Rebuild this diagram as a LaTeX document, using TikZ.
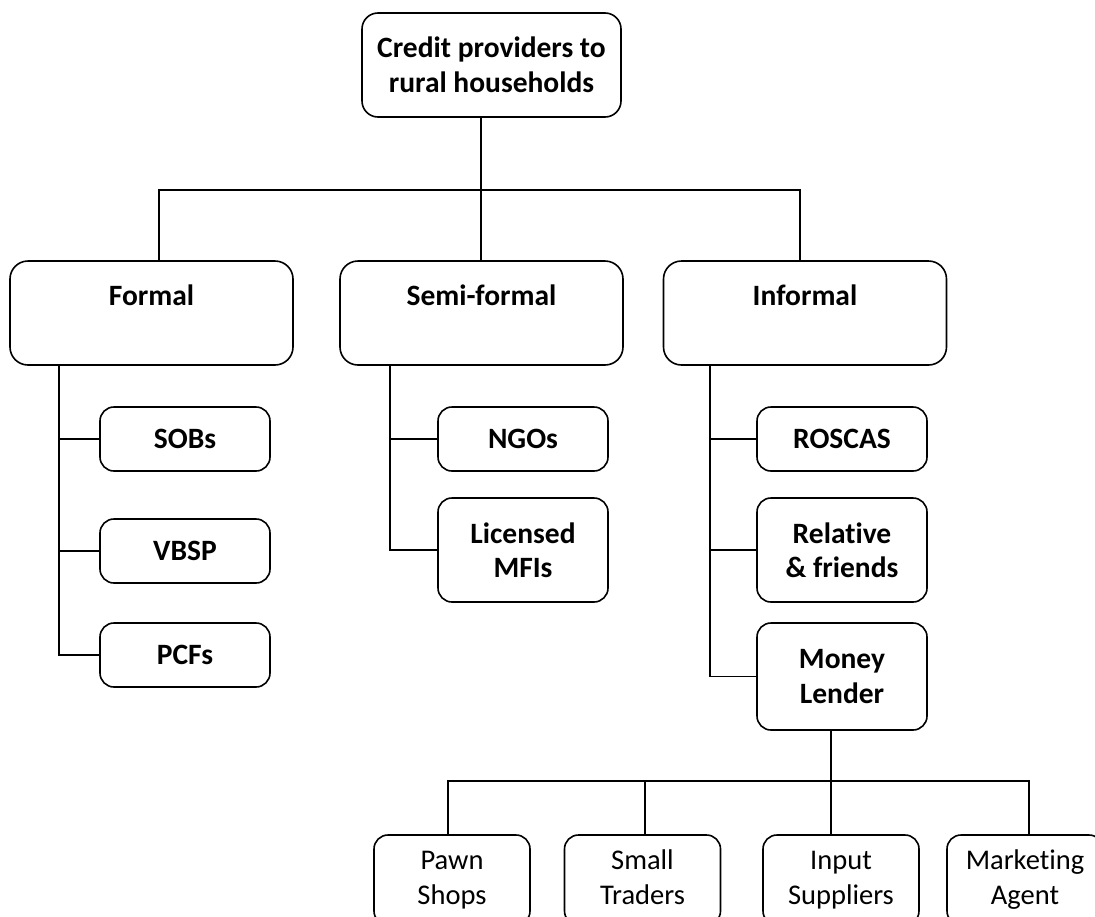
\documentclass[tikz,border=0pt]{standalone}
\usepackage{fontspec}
\setmainfont{Carlito}[Ligatures=NoCommon]
\begin{document}
\begin{tikzpicture}[x=1pt,y=-1pt,
    box/.style={draw, line width=1.6pt, rounded corners=16pt, align=center, inner sep=0pt,
      font=\fontsize{29.5}{34.5}\selectfont\bfseries},
    levelbox/.style={box, rounded corners=18pt, minimum width=283pt, text height=44pt, text depth=60pt},
    subbox/.style={box, rounded corners=14pt, minimum width=170pt, minimum height=64pt},
    agentbox/.style={box, rounded corners=14pt, minimum width=156pt, minimum height=90pt,
      font=\fontsize{28.5}{34.5}\selectfont},
    link/.style={line width=1.2pt}]
      \useasboundingbox (0,0) rectangle (1095,916);
      \clip (0,0) rectangle (1095,916);

      % root and the three sectors
      \node[box, minimum width=259pt, minimum height=104pt] (top) at (491.5,65) {Credit providers to\\rural households};
      \node[levelbox] (formal) at (151.5,313) {Formal};
      \node[levelbox] (semi) at (481.5,313) {Semi-formal};
      \node[levelbox] (informal) at (805,313) {Informal};

      % lenders in each sector
      \node[subbox] (sobs) at (185,439) {SOBs};
      \node[subbox] (vbsp) at (185,551) {VBSP};
      \node[subbox] (pcfs) at (185,655) {PCFs};
      \node[subbox] (ngos) at (523,439) {NGOs};
      \node[subbox, minimum height=104pt] (mfis) at (523,550) {Licensed\\MFIs};
      \node[subbox] (roscas) at (842,439) {ROSCAS};
      \node[subbox, minimum height=104pt] (relatives) at (842,550) {Relative\\\& friends};
      \node[subbox, minimum height=107pt] (lender) at (842,676.5) {Money\\Lender};

      % kinds of money lender
      \node[agentbox] (pawn) at (452,880) {Pawn\strut\\Shops\strut};
      \node[agentbox] (traders) at (642.5,880) {Small\strut\\Traders\strut};
      \node[agentbox] (suppliers) at (841,880) {Input\strut\\Suppliers\strut};
      \node[agentbox] (agent) at (1025,880) {Marketing\strut\\Agent\strut};

      \coordinate (hub) at (481,190);
      \coordinate (fdrop) at (159,190);
      \coordinate (idrop) at (800,190);
      \draw[link] (hub |- top.south) -- (hub);
      \draw[link] (fdrop |- formal.north) |- (idrop) -- (idrop |- informal.north);
      \draw[link] (hub) -- (hub |- semi.north);

      \coordinate (fspine) at (59,0);
      \coordinate (sspine) at (390,0);
      \coordinate (ispine) at (710,0);
      \draw[link] (fspine |- formal.south) |- (pcfs.west);
      \foreach \n in {sobs,vbsp}
        \draw[link] (fspine |- \n.west) -- (\n.west);
      \draw[link] (sspine |- semi.south) |- (mfis.west);
      \draw[link] (sspine |- ngos.west) -- (ngos.west);
      \draw[link] (ispine |- informal.south) |- (lender.west);
      \foreach \n in {roscas,relatives}
        \draw[link] (ispine |- \n.west) -- (\n.west);

      \coordinate (mhub) at (831,781);
      \coordinate (pdrop) at (448,781);
      \coordinate (tdrop) at (645,781);
      \coordinate (adrop) at (1029,781);
      \draw[link] (mhub |- lender.south) -- (mhub);
      \draw[link] (pdrop |- pawn.north) |- (adrop) -- (adrop |- agent.north);
      \draw[link] (tdrop) -- (tdrop |- traders.north);
      \draw[link] (mhub) -- (mhub |- suppliers.north);
    \end{tikzpicture}
\end{document}
